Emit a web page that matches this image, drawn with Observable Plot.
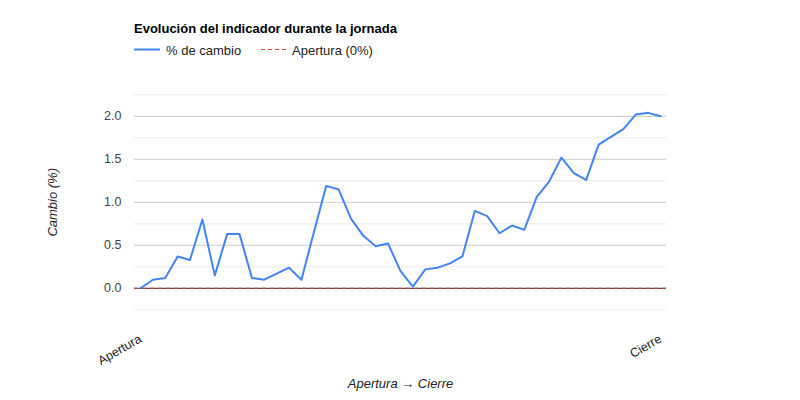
<!DOCTYPE html>
<html>
<head>
<meta charset="utf-8">
<script src="https://cdn.jsdelivr.net/npm/d3@7"></script>
<script src="https://cdn.jsdelivr.net/npm/@observablehq/plot@0.6"></script>
<style>
  html, body { margin: 0; padding: 0; background: #fff; }
  body { width: 800px; height: 400px; overflow: hidden; font-family: "Liberation Sans", Arial, sans-serif; }
  #header { display: block; }
  #chart svg { display: block; }
</style>
</head>
<body>
<svg id="header" width="800" height="64" xmlns="http://www.w3.org/2000/svg" font-family="Liberation Sans, Arial, sans-serif"></svg>
<div id="chart"></div>
<script>
// ---- data ----
const titleText = "Evolución del indicador durante la jornada";
const seriesName = "% de cambio";
const refName = "Apertura (0%)";
const changePct = [0.00, 0.10, 0.12, 0.37, 0.33, 0.80, 0.15, 0.63, 0.63, 0.12,
                   0.10, 0.17, 0.24, 0.10, 0.65, 1.19, 1.15, 0.81, 0.61, 0.49,
                   0.52, 0.20, 0.02, 0.22, 0.24, 0.29, 0.37, 0.90, 0.84, 0.64,
                   0.73, 0.68, 1.06, 1.24, 1.52, 1.34, 1.26, 1.67, 1.76, 1.85,
                   2.02, 2.04, 2.00];
const steps = changePct.map((_, i) => i);
const xTickPositions = [0, 42];
const xTickLabels = ["Apertura", "Cierre"];
const yMajorTicks = [0, 0.5, 1.0, 1.5, 2.0];
const yMinorTicks = [-0.25, 0.25, 0.75, 1.25, 1.75, 2.25];
const refValue = [0];
const yLabel = "Cambio (%)";
const xLabel = "Apertura \u2192 Cierre";

const blue = "#4285f4";
const red = "#db4437";

// ---- header: title + legend ----
const hdr = d3.select("#header");
hdr.append("text").attr("x", 134).attr("y", 33).attr("font-size", 13).attr("font-weight", "bold")
  .attr("fill", "#000").text(titleText);
hdr.append("line").attr("x1", 134).attr("x2", 160).attr("y1", 49.5).attr("y2", 49.5)
  .attr("stroke", blue).attr("stroke-width", 2);
hdr.append("text").attr("x", 166).attr("y", 54.5).attr("font-size", 13).attr("fill", "#222").text(seriesName);
hdr.append("line").attr("x1", 261).attr("x2", 287).attr("y1", 49.5).attr("y2", 49.5)
  .attr("stroke", red).attr("stroke-width", 1).attr("stroke-dasharray", "4,3");
hdr.append("text").attr("x", 292).attr("y", 54.5).attr("font-size", 13).attr("fill", "#222").text(refName);

// ---- chart ----
const data = steps.map((s, i) => ({step: s, value: changePct[i]}));

const chart = Plot.plot({
  width: 800,
  height: 336,
  marginLeft: 134,
  marginRight: 134,
  marginTop: 30.3,
  marginBottom: 90.7,
  style: {fontFamily: "Liberation Sans, Arial, sans-serif", background: "#fff"},
  x: {domain: [0, 42], insetLeft: 6, insetRight: 6},
  y: {domain: [-0.25, 2.25]},
  marks: [
    Plot.ruleY(yMinorTicks, {stroke: "#ebebeb", strokeWidth: 1}),
    Plot.ruleY(yMajorTicks, {stroke: "#cccccc", strokeWidth: 1}),
    Plot.ruleY(refValue, {stroke: "#333333", strokeWidth: 1}),
    Plot.axisY({ticks: yMajorTicks, tickFormat: d3.format(".1f"), tickSize: 0, tickPadding: 13,
                fontSize: 12.5, color: "#444", label: null}),
    Plot.axisX({ticks: xTickPositions, tickFormat: (d, i) => xTickLabels[xTickPositions.indexOf(d)],
                tickSize: 0, tickRotate: -30, textAnchor: "end", lineAnchor: "middle", dy: 28, tickPadding: 0,
                fontSize: 12.5, color: "#222", label: null}),
    Plot.line(data, {x: "step", y: "value", stroke: blue, strokeWidth: 2, strokeLinejoin: "round"}),
    Plot.ruleY(refValue, {stroke: red, strokeWidth: 1, strokeDasharray: "4,4"}),
    Plot.text([yLabel], {frameAnchor: "left", dx: -82, rotate: -90, textAnchor: "middle", lineAnchor: "middle",
                         fontSize: 13, fontStyle: "italic", fill: "#222"}),
    Plot.text([xLabel], {frameAnchor: "bottom", dy: 74, textAnchor: "middle", lineAnchor: "middle",
                         fontSize: 13, fontStyle: "italic", fill: "#222"})
  ]
});
document.getElementById("chart").appendChild(chart);
</script>
</body>
</html>
